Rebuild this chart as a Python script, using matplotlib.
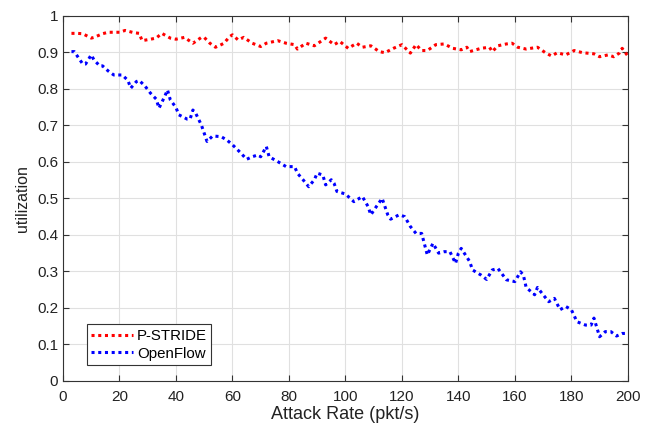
import numpy as np
import matplotlib.pyplot as plt

plt.rcParams['font.family'] = ['Liberation Sans', 'DejaVu Sans']

# P-STRIDE utilization vs attack rate
pstride_x = [3, 5, 7, 10, 11, 14, 16, 20, 22, 25, 27, 28, 31, 33, 35, 38, 40, 43, 46,
             47, 49, 50, 52, 54, 56, 57, 59, 60, 62, 64, 67, 70, 72, 76, 79, 82, 83,
             86, 89, 93, 96, 98, 101, 104, 106, 109, 112, 114, 117, 120, 123, 125,
             127, 129, 132, 135, 138, 141, 143, 144, 148, 151, 152, 154, 157, 159,
             161, 164, 168, 171, 173, 175, 178, 181, 184, 188, 190, 193, 195, 197,
             198, 200]
pstride_y = [0.952, 0.952, 0.951, 0.939, 0.941, 0.951, 0.955, 0.955, 0.960, 0.954,
             0.952, 0.932, 0.936, 0.939, 0.952, 0.939, 0.936, 0.941, 0.925, 0.930,
             0.941, 0.941, 0.925, 0.914, 0.921, 0.925, 0.943, 0.948, 0.934, 0.941,
             0.925, 0.916, 0.925, 0.932, 0.925, 0.921, 0.909, 0.925, 0.918, 0.939,
             0.921, 0.930, 0.911, 0.925, 0.914, 0.918, 0.902, 0.899, 0.911, 0.921,
             0.898, 0.921, 0.905, 0.905, 0.921, 0.923, 0.911, 0.907, 0.914, 0.902,
             0.911, 0.914, 0.902, 0.918, 0.923, 0.925, 0.914, 0.909, 0.914, 0.898,
             0.890, 0.899, 0.893, 0.905, 0.899, 0.896, 0.888, 0.893, 0.888, 0.898,
             0.911, 0.890]

# OpenFlow utilization vs attack rate
openflow_x = [3, 4, 7, 8, 10, 11, 13, 14, 16, 18, 21, 23, 24, 26, 27, 29, 31, 33,
              34, 36, 37, 38, 40, 41, 44, 45, 46, 47, 49, 51, 53, 56, 58, 60, 63,
              65, 67, 69, 70, 72, 73, 76, 79, 82, 83, 85, 87, 89, 90, 92, 93, 95,
              96, 97, 100, 103, 106, 108, 109, 111, 113, 115, 116, 119, 121, 123,
              125, 127, 129, 131, 133, 135, 137, 139, 140, 141, 144, 145, 148, 150,
              152, 154, 157, 160, 162, 163, 164, 167, 168, 170, 172, 174, 176, 178,
              180, 182, 185, 187, 188, 190, 192, 194, 196, 198, 200]
openflow_y = [0.902, 0.902, 0.868, 0.868, 0.893, 0.879, 0.863, 0.863, 0.849, 0.838,
              0.838, 0.823, 0.802, 0.820, 0.823, 0.808, 0.788, 0.772, 0.747, 0.779,
              0.797, 0.770, 0.749, 0.729, 0.717, 0.717, 0.742, 0.733, 0.701, 0.656,
              0.671, 0.669, 0.660, 0.647, 0.624, 0.607, 0.614, 0.619, 0.614, 0.642,
              0.614, 0.601, 0.587, 0.587, 0.569, 0.551, 0.532, 0.551, 0.569, 0.564,
              0.537, 0.551, 0.541, 0.519, 0.512, 0.491, 0.505, 0.478, 0.455, 0.478,
              0.500, 0.455, 0.443, 0.455, 0.450, 0.423, 0.404, 0.404, 0.345, 0.377,
              0.350, 0.354, 0.354, 0.322, 0.350, 0.363, 0.327, 0.304, 0.290, 0.278,
              0.304, 0.308, 0.277, 0.272, 0.299, 0.290, 0.256, 0.236, 0.256, 0.236,
              0.217, 0.226, 0.195, 0.204, 0.195, 0.162, 0.153, 0.153, 0.172, 0.121,
              0.135, 0.135, 0.123, 0.130, 0.130]

xticks = np.arange(0, 201, 20)
yticks = np.round(np.arange(0, 1.01, 0.1), 1)
ytick_labels = ['0', '0.1', '0.2', '0.3', '0.4', '0.5', '0.6', '0.7', '0.8', '0.9', '1']

fig = plt.figure(figsize=(6.54, 4.28), dpi=100)
ax = fig.add_axes([0.0963, 0.110, 0.8637, 0.853])

ax.plot(pstride_x, pstride_y, color='#ff0000', lw=2.2, linestyle=(0, (1, 1.2)),
        label='P-STRIDE')
ax.plot(openflow_x, openflow_y, color='#0000ff', lw=2.2, linestyle=(0, (1, 1.2)),
        label='OpenFlow')

ax.set_xlim(0, 200)
ax.set_ylim(0, 1)
ax.set_xticks(xticks)
ax.set_yticks(yticks)
ax.set_yticklabels(ytick_labels)
ax.grid(True, color='#e0e0e0', lw=0.8)
ax.set_axisbelow(True)
ax.tick_params(direction='in', top=True, right=True, labelsize=11,
               length=4, color='#333333', labelcolor='#222222')
ax.tick_params(axis='x', pad=6.5)
for s in ax.spines.values():
    s.set_color('#333333')
    s.set_linewidth(0.8)

ax.set_xlabel('Attack Rate (pkt/s)', fontsize=13, labelpad=1.5, color='#222222')
ax.set_ylabel('utilization', fontsize=11.5, labelpad=5, color='#222222')

leg = ax.legend(loc='lower left', bbox_to_anchor=(0.042, 0.043), fontsize=10.8,
                fancybox=False, edgecolor='#333333', framealpha=1,
                handlelength=2.8, borderpad=0.3, labelspacing=0.25,
                handletextpad=0.25, borderaxespad=0)
leg.get_frame().set_linewidth(0.8)

fig.savefig('out.png', dpi=100)
